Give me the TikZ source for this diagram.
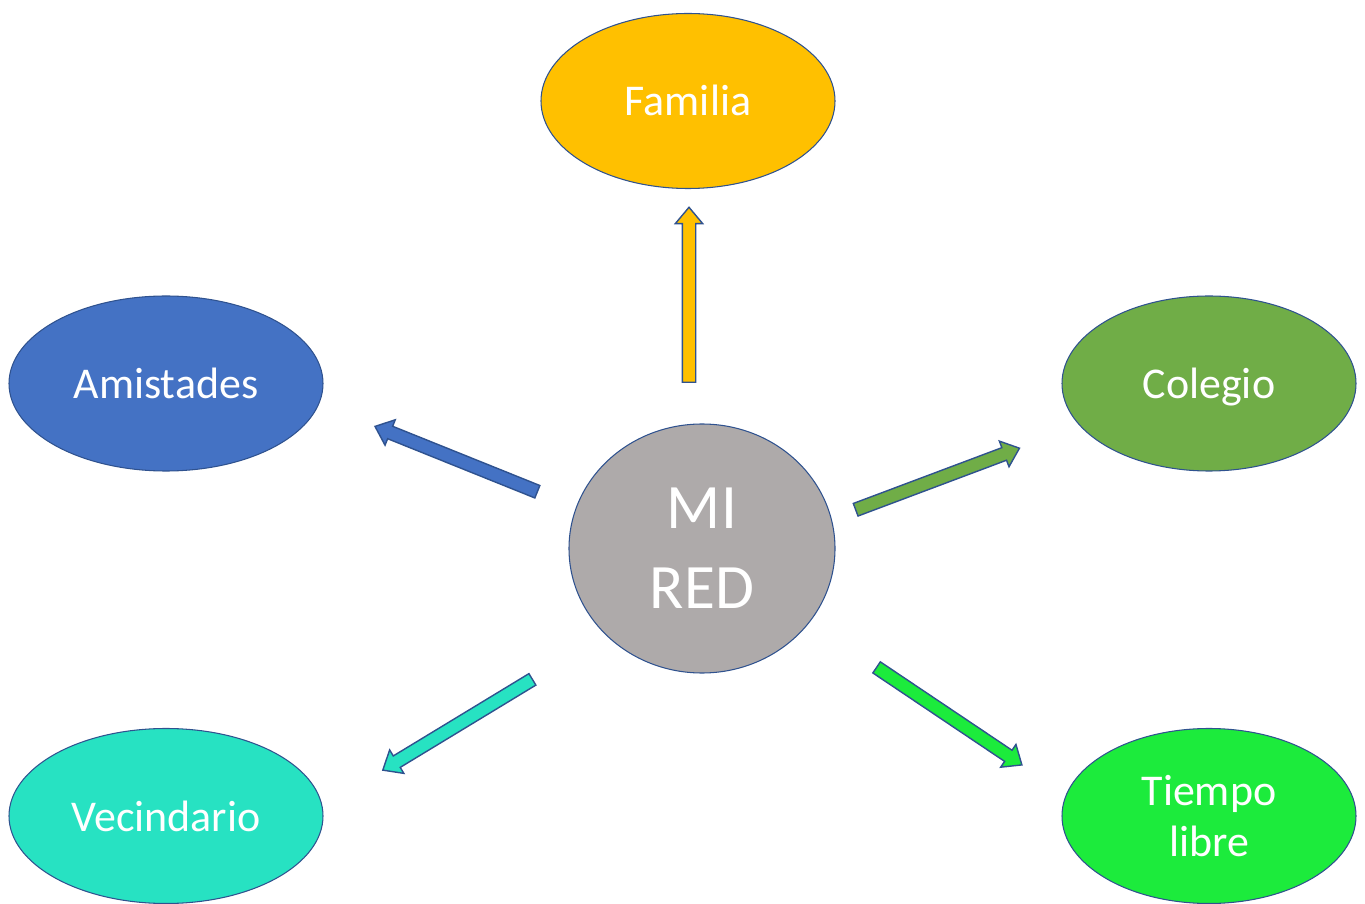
\documentclass[tikz,border=0pt]{standalone}
\usepackage{fontspec}
\setmainfont{Carlito}
\usetikzlibrary{shapes.geometric,shapes.arrows}
\definecolor{rim}{HTML}{2F528F}
\definecolor{famcol}{HTML}{FFC000}
\definecolor{amicol}{HTML}{4472C4}
\definecolor{colcol}{HTML}{70AD47}
\definecolor{veccol}{HTML}{27E2C2}
\definecolor{tiecol}{HTML}{1CEB3C}
\definecolor{redcol}{HTML}{AEAAAA}

\begin{document}
\begin{tikzpicture}[
    bubble/.style={ellipse, draw=rim, line width=0.6pt, text=white,
                   minimum width=5.88cm, minimum height=3.5cm, align=center,
                   font=\fontsize{25}{29}\selectfont},
    oneline/.style={text height=0.75cm, text depth=0.15cm},
    blk/.style={single arrow, draw=rim, line width=0.8pt, inner sep=0pt,
                text height=0.24cm, text depth=0pt,
                minimum height=3.5cm, minimum width=0.52cm,
                single arrow head extend=0.14cm, single arrow tip angle=80,
                pos=0, anchor=tail, sloped, allow upside down}]
\useasboundingbox (0,0) rectangle (27.3,18.06);
% bubbles
\node[bubble, fill=redcol, minimum width=5.32cm, minimum height=4.98cm,
      font=\fontsize{36}{45.5}\selectfont] (red) at (14.04,7.09) {MI\\RED};
\node[bubble, oneline, fill=famcol] (fam) at (13.76,16.04) {Familia};
\node[bubble, oneline, fill=amicol, minimum width=6.28cm] (ami) at (3.32,10.39) {Amistades};
\node[bubble, oneline, fill=colcol] (col) at (24.18,10.39) {Colegio};
\node[bubble, oneline, fill=veccol, minimum width=6.28cm] (vec) at (3.32,1.74) {Vecindario};
\node[bubble, fill=tiecol] (tie) at (24.18,1.74) {Tiempo\\libre};
% arrow ends
\coordinate (famA) at (13.78,10.40); \coordinate (famB) at (13.78,13.90);
\coordinate (amiA) at (10.76,8.22);  \coordinate (amiB) at (7.48,9.54);
\coordinate (colA) at (17.10,7.86);  \coordinate (colB) at (20.40,9.10);
\coordinate (vecA) at (10.66,4.48);  \coordinate (vecB) at (7.66,2.66);
\coordinate (tieA) at (17.52,4.72);  \coordinate (tieB) at (20.44,2.76);
% arrows
\path (famA) -- node[blk, fill=famcol] (famArr) {} (famB);
\path (amiA) -- node[blk, fill=amicol] (amiArr) {} (amiB);
\path (colA) -- node[blk, fill=colcol] (colArr) {} (colB);
\path (vecA) -- node[blk, fill=veccol] (vecArr) {} (vecB);
\path (tieA) -- node[blk, fill=tiecol] (tieArr) {} (tieB);
\end{tikzpicture}
\end{document}
